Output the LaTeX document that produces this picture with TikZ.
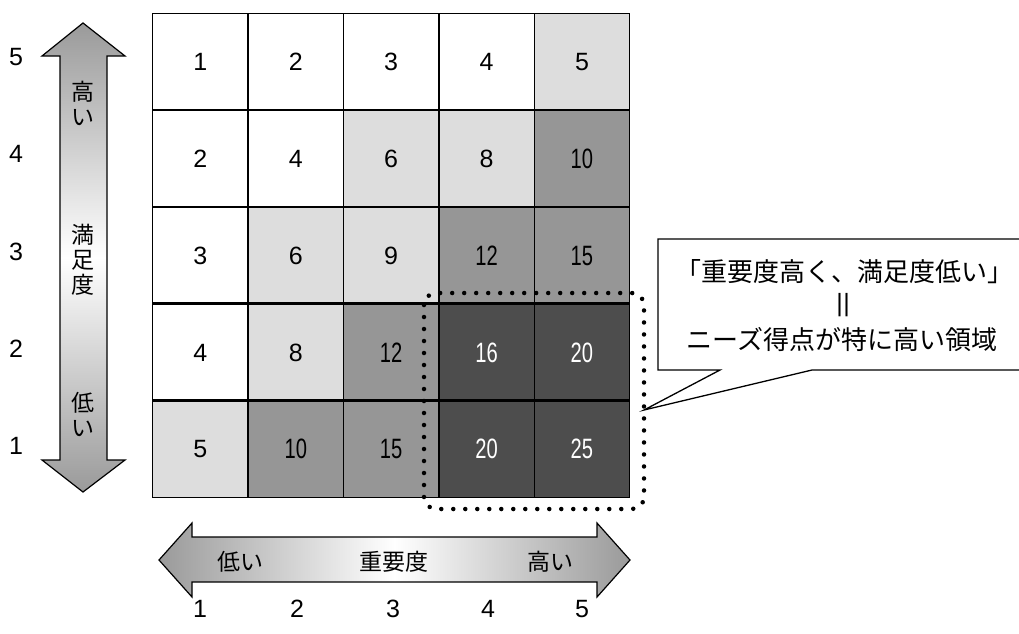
\documentclass[tikz,border=0pt]{standalone}
\usepackage{graphicx}
\usepackage{fontspec}
\setmainfont{Liberation Sans}
\newfontfamily\jp{Noto Sans CJK JP}
\definecolor{lgray}{HTML}{DDDDDD}
\definecolor{mgray}{HTML}{969696}
\definecolor{dgray}{HTML}{4D4D4D}
\definecolor{agray}{HTML}{9A9A9A}
\tikzset{
  cell/.style={draw=black, line width=1.3pt, inner sep=0pt, anchor=north west,
    minimum width=95.4pt, minimum height=96.8pt},
  axislab/.style={inner sep=0pt, font=\fontsize{25}{25}\selectfont},
  arrowtxt/.style={inner sep=0pt, align=center, font=\jp\fontsize{23}{25}\selectfont},
  bigarrow/.style={draw=black, line width=1.2pt, top color=agray, bottom color=agray, middle color=white},
  hbigarrow/.style={draw=black, line width=1.2pt, left color=agray, right color=agray, middle color=white},
  dotbox/.style={line width=4.5pt, line cap=round, dash pattern=on 0pt off 12pt, rounded corners=12pt},
  callout/.style={draw=black, line width=1.3pt, fill=white},
  callouttxt/.style={inner sep=0pt, font=\jp\fontsize{26}{26}\selectfont}
}
\begin{document}
\begin{tikzpicture}[x=1pt,y=-1pt]
\useasboundingbox (0,0) rectangle (1019,633);
% grid
\foreach \r in {1,...,5}{
  \foreach \c in {1,...,5}{
    \pgfmathtruncatemacro{\v}{(6-\r)*\c}
    \pgfmathsetmacro{\xl}{152+(\c-1)*95.4}
    \pgfmathsetmacro{\yt}{13+(5-\r)*96.8}
    \ifnum\v<5 \def\fc{white}\def\tc{black}\else
      \ifnum\v<10 \def\fc{lgray}\def\tc{black}\else
        \ifnum\v<16 \def\fc{mgray}\def\tc{black}\else
          \def\fc{dgray}\def\tc{white}\fi\fi\fi
    \ifnum\v<10
      \node[cell, fill=\fc, text=\tc, font=\fontsize{25}{25}\selectfont] (cell-\r-\c) at (\xl,\yt) {\v};
    \else
      \node[cell, fill=\fc, text=\tc] (cell-\r-\c) at (\xl,\yt) {\scalebox{0.72}[1]{\fontsize{28}{28}\selectfont\v}};
    \fi
  }
}
\foreach \i in {1,...,4}{
  \draw[line width=2.2pt] (152,13+\i*96.8) -- (629,13+\i*96.8);
}
% row labels
\foreach \r/\y in {5/57,4/154,3/252,2/349,1/446}{
  \node[axislab] (rl-\r) at (16,\y) {\r};
}
% column labels
\foreach \c/\x in {1/200,2/297,3/393,4/488,5/582}{
  \node[axislab] (cl-\c) at (\x,609) {\c};
}
% vertical arrow
\path[bigarrow] (83,23) -- (125,56) -- (107,56) -- (107,460) -- (125,460) -- (83,492)
  -- (42,460) -- (60,460) -- (60,56) -- (42,56) -- cycle;
\node[arrowtxt] (vhigh) at (83,103) {高\\い};
\node[arrowtxt] (vsat) at (83,260) {満\\足\\度};
\node[arrowtxt] (vlow) at (83,414) {低\\い};
% horizontal arrow
\path[hbigarrow] (159,560) -- (192,523) -- (192,537) -- (597,537) -- (597,523) -- (630,560)
  -- (597,597) -- (597,582) -- (192,582) -- (192,597) -- cycle;
\node[arrowtxt] (hlow) at (240,562) {低い};
\node[arrowtxt] (himp) at (394,562) {重要度};
\node[arrowtxt] (hhigh) at (550,562) {高い};
% dotted region
\draw[dotbox] (424,293) rectangle (644,509);
% callout
\coordinate (tip) at (644,410);
\path[callout] (658,239) -- (1021,239) -- (1021,370) -- (812,370) -- (tip) -- (720,370) -- (658,370) -- cycle;
\node[callouttxt] (co1) at (844,272) {「重要度高く、満足度低い」};
\node[inner sep=0pt, font=\fontsize{25}{25}\selectfont] (co2) at (843,305) {|\kern0.5pt|};
\node[callouttxt] (co3) at (842,340) {ニーズ得点が特に高い領域};
\end{tikzpicture}
\end{document}
